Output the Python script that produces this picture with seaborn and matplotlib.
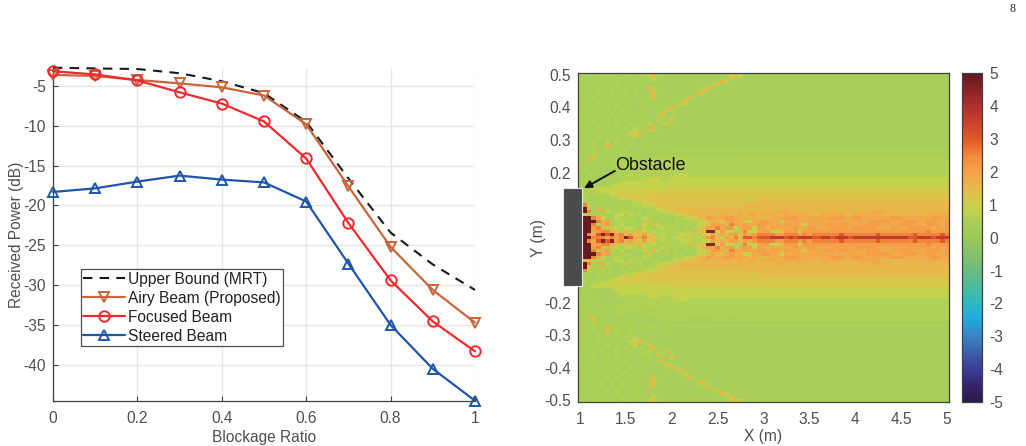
import numpy as np
import pandas as pd
import matplotlib
matplotlib.use("Agg")
import matplotlib.pyplot as plt
from matplotlib.colors import LinearSegmentedColormap
from matplotlib.patches import Rectangle
import seaborn as sns

# Received power against blockage ratio
blockage = [0, 0.1, 0.2, 0.3, 0.4, 0.5, 0.6, 0.7, 0.8, 0.9, 1.0]
upper_bound = [-2.7, -2.8, -2.87, -3.4, -4.4, -5.9, -9.5, -16.6, -23.4, -27.4, -30.6]
airy_beam = [-3.6, -3.75, -4.25, -4.67, -5.17, -6.2, -9.8, -17.6, -25.2, -30.6, -34.7]
focused_beam = [-3.15, -3.55, -4.3, -5.8, -7.2, -9.45, -14.1, -22.2, -29.4, -34.55, -38.3]
steered_beam = [-18.3, -17.85, -17.0, -16.25, -16.75, -17.1, -19.5, -27.3, -35.0, -40.5, -44.5]

# Field map: one letter per cell, upper half of the plane from y = 0.50 down to y = 0.00.
# A row shorter than the grid carries its last letter on to x = 5.
level_values = dict(a=0.3, b=0.45, c=0.6, d=0.9, e=1.1, f=1.3, g=1.5, h=1.8,
                    i=2.1, j=2.5, k=3.0, l=3.7, m=4.5, n=5.0)
field_rows = [
    "cbbcbbcbbb cbbbbdgcbb bbbbbbbbbb bbbdgdbbbb b",
    "bbbbcbbbbc bbcbbbdbbb bbbbbbbbbb bbcgbbbbbb b",
    "cbcbbcbbcb bbbcbbcbbb bbbbbbbbbb cgdbbbbbbb b",
    "bbbcbbcbcb bcbbbbbbbb bbbbbbbbbc fbbbbbbbbb b",
    "cbbbcbbcbb cbbbbgcbbb bbbbbbbcgc bbbbbbbbbb b",
    "bcbbbcbcbc bbcbbbfbbb bbbbbbcfcb bbbbbbbbbb b",
    "cbbbcbbcbb cbcbbbgcbb bbbbbbgcbb bbbbbbbbbb b",
    "bcbcbbcbcb bbbbbcfbbb bbbcgcbbbb bbbbbbbbbb b",
    "cbbbcbbbbc bcbcbbbbbb bbcfbbbbbb b",
    "bcbbbcbbcb cbbbbbbbbb bcfcbbbbbb b",
    "cbbcbbcbbb bcbbcbbbbc gcbbbbbbbb b",
    "bcbbcbcbbc bbbbbcbbcf cbbbbbbbbb b",
    "cbcbbbbcbb cbbcbbbcgb bbbbbbbbbb b",
    "bbbcbcbbcb bcbbbcbbcb fbbbbbbbbb b",
    "cbbcbbcbbb cbbbcbbfcb cbbbbbbbbb b",
    "bcbbbcbbcb bcbbcdbbcf bbbbbbbbbb b",
    "cbbbcbbbcb cbccbbgcbb bbbbbbbbbb b",
    "bcbcbbcbbb bcdbcfcbbb b",
    "cbbbcbbbcb bdfgcbbbbb b",
    "bcbbcbbcbb bcdcbbbbbb b",
    "cbcbcbcbcb ccbbbbbbbb b",
    "bcbcbbfbcb bcbbbbbbbb b",
    "cbbcbbgccb bcbbccbbcc b",
    "bcbcbbbcbb cbbbbccbbb c",
    "cbcccbcbbc bbbbbbbbbb b",
    "bcbfbcbbbb bbcbbbbccc ccccbbbbbb ccbb c",
    "cbgcbcbbbb bbbbbbcccc cccccccccc cccc c",
    "bcbbcbbbcc cbbbcccccc cccccccccc c",
    "cbcbbcbbcc ccccbbbbcc cccccccccc c",
    "bcbbbbbbbc cccccccccc cccccc c",
    "cbbcbbbbbb bccccccccc cccccc c",
    "bbcbbbbbcc cccccccccc cdddcccccc c",
    "bbbbbbbbbc cccccdddcc ddd d",
    "bcbbbbbbcd dddddddddd d",
    "bbcbbbbcdd dddddddddd dddd d",
    "bbbddddddd dddddddddd e",
    "bcbccdddee eeeeeeeeee eeeeeeeeee eeeeeeeeee e",
    "jcbbcccdde eeeeeeffff ffffffffff ffffffffff f",
    "cccbbcbccd eefeffffff ffffffffff ffffffffff f",
    "ibcbcbcbbc ccdeeeffff ffffffffff ffffffffff g",
    "gjcbbcbcbb cbccddefff ffffffffff ffffffgggg g",
    "nngbgbcbbc bcbccccdef fggggggggg gggggggggg g",
    "nnjcbhdcbc dcbcbbccdd efgggggggg gggggggggg ggghhhgggg gggggggggg gggghhhggg g",
    "ncccccbbdd bdccbcccbc cdeefgghgg ghhgghghhg hhhgghhhhh ggghhhhhgg hhhhhhgggg gggggghhhh h",
    "nnnjhdbcdc cccbdcbbcb bccdeeggih hhiihhhghg gghhhiiihh hhhhhiiihh iihhhhhhii ihhhhhhiih h",
    "nnnnjhibcc ccbbcfbcbc bccbccdefh gfhihhdehh iihhdhhhhh hhhhhhhhhh hhhiiiiihh hiiihhiihh i",
    "nnnjchicbd bbccdcgdbc bcbccbdefi ihcjihihhi ihhhhihhhd hhhhiihiih hhhiiihhhh iiihhhiiih i",
    "nnnijgcgdc ddcbfcbcdc ccbcbcdgih jhiidhiidi hgihhhhihh iihhhiiiih iiiiihhhii hhiiiiihih i",
    "nnnhijjggc gcfgdcdcbc cccccgfgmm diddccjddh iiddgiiidi iiiiiiiiii iiiiiiiiii iiiiiijiii i",
    "nnjhkmkmij gigfiegcdc ccddeccddi ghgiigihij jjjiijjjij ijjjjjjkjj jjjjjkjjjj jjjkjjjjjk j",
    "nnnjjjhjij mkhhjgfcdc cdecdcdgij gdigjgkkjk kklllklkll lkkllklllk llllllllll llkklllkll l",
]
x_positions = [round(1 + 0.05 * i, 2) for i in range(81)]
y_positions = [round(0.5 - 0.01 * i, 2) for i in range(101)]

x_ticks = [1, 1.5, 2, 2.5, 3, 3.5, 4, 4.5, 5]
y_ticks = [0.5, 0.4, 0.3, 0.2, 0.1, 0, -0.1, -0.2, -0.3, -0.4, -0.5]
y_tick_labels = ["0.5", "0.4", "0.3", "0.2", "", "", "", "-0.2", "-0.3", "-0.4", "-0.5"]
power_ticks = [-40, -35, -30, -25, -20, -15, -10, -5]
colorbar_ticks = [-5, -4, -3, -2, -1, 0, 1, 2, 3, 4, 5]


def decode_row(row):
    letters = row.replace(" ", "")
    letters = letters.ljust(81, letters[-1])[:81]
    return [level_values[c] for c in letters]


upper_half = [decode_row(r) for r in field_rows]
field = pd.DataFrame(upper_half + upper_half[-2::-1], index=y_positions, columns=x_positions)

sns.set_style("white")
plt.rcParams.update({
    "font.family": ["Liberation Sans", "DejaVu Sans"],
    "font.size": 11.2,
    "axes.unicode_minus": False,
    "text.color": "#505050",
    "axes.labelcolor": "#505050",
    "xtick.color": "#505050",
    "ytick.color": "#505050",
})

W, H = 1026, 446
fig = plt.figure(figsize=(W / 100, H / 100), dpi=100, facecolor="white")


def place(left, right, top, bottom):
    return fig.add_axes([left / W, 1 - bottom / H, (right - left) / W, (bottom - top) / H])


# Line chart
ax = place(53, 475, 68.3, 400.7)
series = [
    ("Airy Beam (Proposed)", airy_beam, "#c9653b", "v"),
    ("Focused Beam", focused_beam, "#ef2a2e", "o"),
    ("Steered Beam", steered_beam, "#1f56a8", "^"),
]
sns.lineplot(x=blockage, y=upper_bound, ax=ax, color="#1a1a1a", lw=1.5, label="Upper Bound (MRT)",
             linestyle=(0, (4.5, 3.5)), errorbar=None, sort=False, zorder=3, clip_on=False)
for name, values, colour, mark in series:
    sns.lineplot(x=blockage, y=values, ax=ax, color=colour, lw=1.6, label=name, errorbar=None,
                 sort=False, marker=mark, markersize=7.5, markerfacecolor="none",
                 markeredgecolor=colour, markeredgewidth=1.4, clip_on=False, zorder=4)
ax.set_xlim(0, 1)
ax.set_ylim(-44.5, -2.78)
ax.set_xticks(np.arange(0, 1.01, 0.2), ["0", "0.2", "0.4", "0.6", "0.8", "1"])
ax.set_yticks(power_ticks)
ax.grid(True, color="#e6e6e6", lw=1)
ax.set_axisbelow(True)
ax.tick_params(direction="in", length=3.5, width=0.8, color="#404040", bottom=True, left=True)
ax.tick_params(axis="x", pad=7.5)
ax.tick_params(axis="y", pad=5)
for side in ("top", "right"):
    ax.spines[side].set_visible(False)
for side in ("left", "bottom"):
    ax.spines[side].set_color("#404040")
    ax.spines[side].set_linewidth(0.9)
ax.set_xlabel("Blockage Ratio", labelpad=3)
ax.set_ylabel("Received Power (dB)", labelpad=0)
legend = ax.legend(loc="lower left", bbox_to_anchor=(0.066, 0.164), frameon=True, fancybox=False,
                   framealpha=1, edgecolor="#505050", borderpad=0.17, labelspacing=0.25,
                   handlelength=2.65, handletextpad=0.2, borderaxespad=0, fontsize=11.2)
legend.get_frame().set_linewidth(0.9)
for text in legend.get_texts():
    text.set_color("#222222")

# Field map and colour bar
turbo_like = LinearSegmentedColormap.from_list("field_power", [
    (0.00, "#2b1a4c"), (0.05, "#35276f"), (0.10, "#3c3f96"), (0.20, "#3b84c4"), (0.25, "#1fa9dc"),
    (0.30, "#2fb9c0"), (0.40, "#6dbb80"), (0.50, "#9bc957"), (0.54, "#a6cf5a"), (0.58, "#bcd44e"),
    (0.60, "#cdd04a"), (0.65, "#e6b94a"), (0.70, "#f6a24a"), (0.75, "#f28a3c"), (0.80, "#e2592a"),
    (0.90, "#b1302f"), (1.00, "#631a20"),
], N=128)

hm = place(577.7, 949.3, 73.3, 402)
cax = place(961.7, 982.3, 73.3, 402)
sns.heatmap(field, ax=hm, cbar_ax=cax, cmap=turbo_like, vmin=-5, vmax=5,
            xticklabels=False, yticklabels=False)


def cell_x(x):
    return (x - 1) / 0.05 + 0.5


def cell_y(y):
    return (0.5 - y) / 0.01 + 0.5


hm.set_xticks([cell_x(v) for v in x_ticks], [f"{v:g}" for v in x_ticks], rotation=0)
hm.set_yticks([cell_y(v) for v in y_ticks], y_tick_labels, rotation=0)
hm.tick_params(direction="in", length=3, width=0.8, color="#404040", top=True, right=True,
               bottom=True, left=True)
hm.tick_params(axis="x", pad=7.5)
hm.tick_params(axis="y", pad=5)
for spine in hm.spines.values():
    spine.set_visible(True)
    spine.set_color("#404040")
    spine.set_linewidth(0.9)
hm.set_xlabel("X (m)", labelpad=1)
hm.set_ylabel("Y (m)")
hm.yaxis.set_label_coords((546 - 577.7) / 371.6, 0.5)

hm.add_patch(Rectangle((cell_x(0.82), cell_y(0.152)), cell_x(1.017) - cell_x(0.82),
                       cell_y(-0.148) - cell_y(0.152), facecolor="#4a4b4d", edgecolor="#e8e8e8",
                       lw=0.8, clip_on=False, zorder=5))
hm.annotate("", xy=(cell_x(1.045), cell_y(0.152)), xytext=(cell_x(1.38), cell_y(0.205)),
            arrowprops=dict(arrowstyle="-|>", color="#111111", lw=1.4, shrinkA=0, shrinkB=0,
                            mutation_scale=11), zorder=6)
hm.text(cell_x(1.38), cell_y(0.223), "Obstacle", color="#111111", fontsize=12.9, va="center", ha="left", zorder=6)

cbar = hm.collections[0].colorbar
cbar.set_ticks(colorbar_ticks)
cbar.ax.tick_params(direction="in", length=3, width=0.8, color="#404040", pad=5, labelsize=11.2)
cbar.outline.set_visible(True)
cbar.outline.set_edgecolor("#404040")
cbar.outline.set_linewidth(0.9)

# Page number
fig.text(1012 / W, 1 - 9 / H, "8", family="Liberation Serif", fontsize=8.5, color="#222222",
         ha="center", va="center")

fig.savefig("out.png", dpi=100)
